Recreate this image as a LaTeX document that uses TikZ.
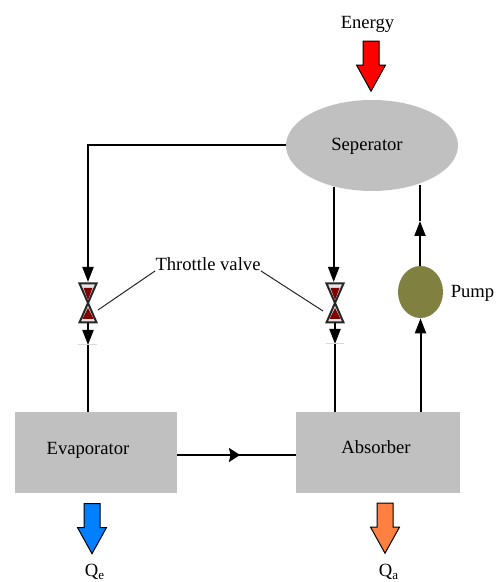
\documentclass[tikz,border=0pt]{standalone}
\usepackage{fontspec}
\setmainfont{Liberation Serif}
\usetikzlibrary{arrows.meta,shapes.geometric,shapes.arrows}

\definecolor{boxgrey}{HTML}{C0C0C0}
\definecolor{pumpolive}{HTML}{808040}
\definecolor{valvered}{HTML}{800000}
\definecolor{qeblue}{HTML}{0080FF}
\definecolor{qaorange}{HTML}{FF8040}

\tikzset{
    label/.style={inner sep=0pt, font=\fontsize{10.6}{12}\selectfont},
    unitbox/.style={fill=boxgrey, minimum width=3.26cm, minimum height=1.62cm, inner sep=0pt},
    flow/.style={line width=0.04cm},
    flowarrow/.style={flow, -{Stealth[length=3mm, width=2.2mm, inset=0pt]}},
    shortarrow/.style={flow, -{Stealth[length=2.2mm, width=2.8mm, inset=0.3mm]}},
    leader/.style={line width=0.02cm, black!85},
    tick/.style={line width=0.02cm, black!15},
    heatarrow/.style={single arrow, draw=black, line width=0.02cm, inner sep=0.15cm,
        shape border rotate=270, minimum height=1cm, minimum width=0.56cm,
        single arrow head extend=0.13cm, single arrow tip angle=58},
    valve/.pic={
        \draw[line width=0.04cm, black!85, fill=black!10] (-0.17,0.39) -- (0.17,0.39) -- (-0.17,-0.39) -- (0.17,-0.39) -- cycle;
        \fill[valvered] (-0.09,0.3) -- (0.09,0.3) -- (0,0.06) -- cycle;
        \fill[valvered] (-0.11,-0.32) -- (0.11,-0.32) -- (0,-0.1) -- cycle;
        \coordinate (-top) at (0,0.42);
        \coordinate (-bot) at (0,-0.4);
        \coordinate (-right) at (0.2,-0.14);
        \coordinate (-left) at (-0.24,-0.16);
    }
}

\begin{document}
\begin{tikzpicture}
    \useasboundingbox (0,0) rectangle (10,11.64);

    \node[ellipse, fill=boxgrey, minimum width=3.44cm, minimum height=1.82cm, inner sep=0pt] (separator) at (7.44,8.73) {};
    \node[ellipse, fill=pumpolive, minimum width=0.9cm, minimum height=1.04cm, inner sep=0pt] (pump) at (8.41,5.8) {};
    \node[unitbox, minimum width=3.24cm] (evaporator) at (1.92,2.59) {};
    \node[unitbox, minimum width=3.28cm] (absorber) at (7.56,2.59) {};

    \node[label] (separatorlabel) at (7.34,8.72) {Seperator};
    \node[label] (evaporatorlabel) at (1.76,2.63) {Evaporator};
    \node[label] (absorberlabel) at (7.52,2.7) {Absorber};
    \node[label] (pumplabel) at (9.45,5.78) {Pump};
    \node[label] (throttle) at (4.16,6.36) {Throttle valve};
    \node[label] (energylabel) at (7.35,11.15) {Energy};
    \node[label] (qelabel) at (1.9,0.2) {Q\textsubscript{e}};
    \node[label] (qalabel) at (7.78,0.2) {Q\textsubscript{a}};

    % heat and energy arrows
    \node[heatarrow, fill=red] (energy) at (7.42,10.46) {};
    \node[heatarrow, fill=qeblue] (qe) at (1.84,1.21) {};
    \node[heatarrow, fill=qaorange] (qa) at (7.7,1.22) {};

    \pic (valveE) at (1.76,5.58) {valve};
    \pic (valveA) at (6.7,5.58) {valve};

    \coordinate (tickE) at (1.76,4.74);
    \coordinate (tickA) at (6.7,4.76);
    \coordinate (returntop) at (8.4,7.94);
    \coordinate (returnhead) at (8.4,7.22);
    \coordinate (midhead) at (4.8,2.54);

    % separator to valves
    \draw[flowarrow] (separator.west) -| (valveE-top);
    \draw[flowarrow] (separator.227.9) -- (separator.227.9 |- valveA-top);

    % valves down to the units
    \draw[flowarrow] (valveE-bot) -- (tickE);
    \draw[flowarrow] (valveA-bot) -- (tickA);
    \draw[flow] (tickE) -- (tickE |- evaporator.north);
    \draw[flow] (tickA) -- (tickA |- absorber.north);
    \draw[tick] ([xshift=-0.2cm]tickE) -- ([xshift=0.18cm]tickE);
    \draw[tick] ([xshift=-0.18cm]tickA) -- ([xshift=0.18cm]tickA);

    % return through the pump
    \draw[flowarrow] (pump.south |- absorber.north) -- (pump.south);
    \draw[flowarrow] (pump.north -| returnhead) -- (returnhead);
    \draw[flow] (returnhead) -- (returntop);

    % evaporator to absorber
    \draw[flow] (evaporator.east |- midhead) -- (absorber.west |- midhead);
    \draw[shortarrow] (4.58,2.54) -- (midhead);

    \draw[leader] (throttle.south west) -- (valveE-right);
    \draw[leader] (throttle.south east) -- (valveA-left);
\end{tikzpicture}
\end{document}
